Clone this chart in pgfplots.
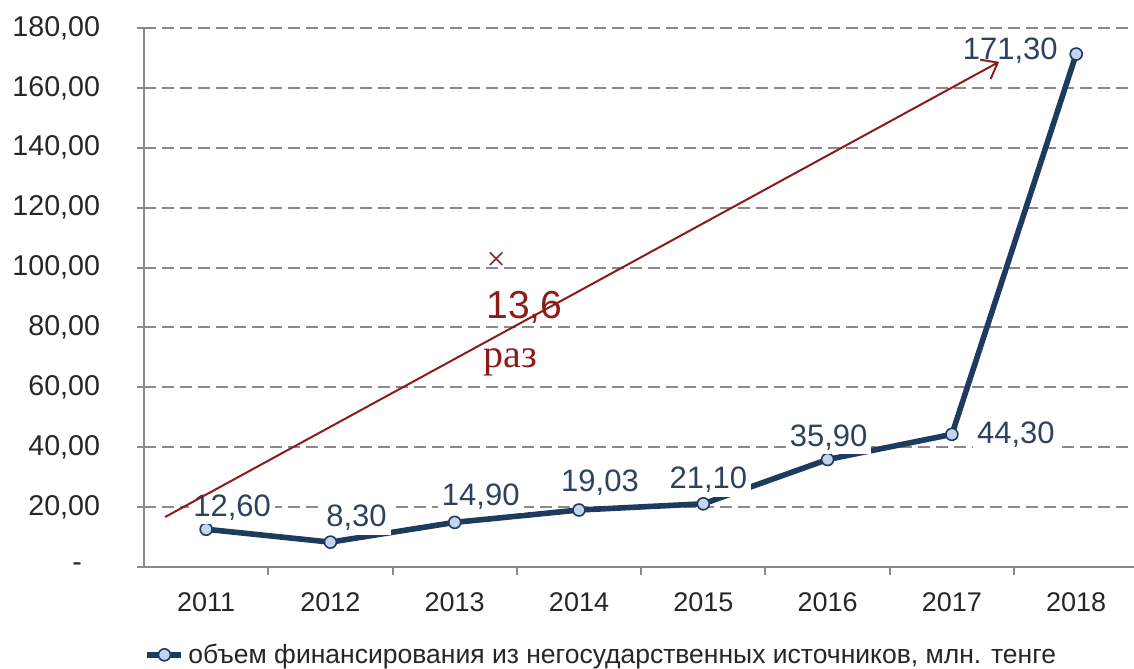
\documentclass[border=0pt]{standalone}
\usepackage{fontspec}
\setmainfont{Liberation Sans}
\newfontfamily\seriffont{Liberation Serif}
\usepackage{pgfplots}
\usepackage{pgfplotstable}
\usetikzlibrary{arrows.meta}
\pgfplotsset{compat=1.18}

\definecolor{navy}{HTML}{1F3A5F}
\definecolor{lblue}{HTML}{C3D5EE}
\definecolor{lbl}{HTML}{2E4260}
\definecolor{dred}{HTML}{8C1C1C}
\definecolor{gridgray}{HTML}{8A8A8A}

% x = year index (2011 = 0), dx/dy = label offset in pt
\pgfplotstableread{
x y dx dy lab
0 12.60 13 11 12,60
1 8.30 13 12 8,30
2 14.90 13 13 14,90
3 19.03 10.5 13.5 19,03
4 21.10 2.5 12 21,10
5 35.90 0.5 11 35,90
6 44.30 32 0 44,30
7 171.30 -33 1.5 171,30
}\datatable

\begin{document}
\begin{tikzpicture}
\begin{axis}[
    scale only axis,
    width=495pt, height=269.5pt,
    xmin=-0.5, xmax=7.465,
    ymin=0, ymax=180,
    axis x line=bottom, axis y line=left,
    axis line style={gridgray, line width=1pt, -},
    xtick={0,...,7},
    xticklabels={2011,2012,2013,2014,2015,2016,2017,2018},
    minor xtick={0.5,1.5,...,6.5},
    ytick={0,20,...,180},
    yticklabels={{-\kern 9pt},{20,00},{40,00},{60,00},{80,00},{100,00},{120,00},{140,00},{160,00},{180,00}},
    tick align=outside,
    major tick length=3.5pt, minor tick length=4pt,
    major x tick style={draw=none},
    minor x tick style={gridgray, line width=1pt},
    major y tick style={gridgray, line width=1pt},
    yticklabel shift=15pt,
    xticklabel shift=6pt,
    xticklabel style={font=\fontsize{13.5}{16}\selectfont, text=black!85},
    yticklabel style={font=\fontsize{14.3}{17}\selectfont, text=black!85},
    ymajorgrids,
    major grid style={gridgray, line width=1pt, dash pattern=on 6pt off 3pt},
    clip=false,
    legend style={at={(0.463,-0.163)}, anchor=center, draw=none,
        font=\fontsize{13.25}{16}\selectfont, text=black!85},
    legend cell align=left,
]
\coordinate (O) at (rel axis cs:0,0);
\coordinate (T) at (rel axis cs:1,1);
\coordinate (A0) at (axis cs:-0.33,16.7);
\coordinate (A1) at (axis cs:6.38,168.7);

\addplot[
    navy, line width=2.8pt,
    mark=*, mark size=3pt,
    mark options={fill=lblue, draw=navy, line width=0.8pt},
    point meta=explicit symbolic,
    visualization depends on={\thisrow{dx} \as \dx},
    visualization depends on={\thisrow{dy} \as \dy},
    nodes near coords,
    every node near coord/.append style={anchor=center,
        xshift=\dx pt, yshift=\dy pt, fill=white, inner sep=2pt,
        font=\fontsize{15.5}{18}\selectfont, text=lbl},
] table[x=x, y=y, meta=lab] {\datatable};
\addlegendentry{объем финансирования из негосударственных источников, млн. тенге}

\node[dred, font=\seriffont\fontsize{17}{20}\selectfont] at (axis cs:2.333,102) {×};
\node[dred, anchor=base, font=\fontsize{19.5}{22}\selectfont] at (axis cs:2.56,83) {13,6};
\node[dred, anchor=base, font=\seriffont\fontsize{20}{24}\selectfont] at (axis cs:2.45,66.7) {раз};
\end{axis}
% growth arrow on top of the value labels
\draw[dred, line width=1pt, -{Straight Barb[length=7pt,width=11pt]}] (A0) -- (A1);
\pgfresetboundingbox
\path ([xshift=-72pt,yshift=-51pt]O) rectangle ([yshift=14pt]T);
\end{tikzpicture}
\end{document}
